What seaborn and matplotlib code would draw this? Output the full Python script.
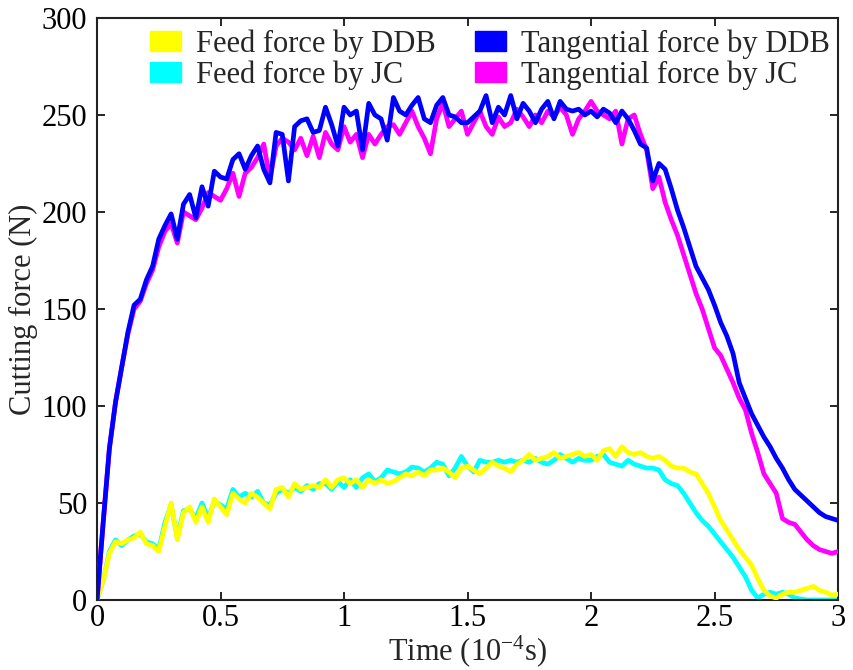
import numpy as np
import pandas as pd
import matplotlib
matplotlib.use("Agg")
import matplotlib.pyplot as plt
from matplotlib.patches import Patch
import seaborn as sns

# ---- data (time in 1e-4 s, step 0.025) ----
time = [round(i * 0.025, 3) for i in range(121)]

feed_ddb = [0, 10, 24, 30, 29, 31, 32, 35, 29, 28, 25, 38, 50, 31, 45, 48, 40, 48, 40, 52,
            48, 44, 55, 52, 50, 55, 53, 50, 47, 57, 58, 53, 60, 57, 58, 59, 58, 62, 58, 62,
            63, 60, 62, 58, 62, 60, 62, 60, 61, 63, 65, 64, 66, 64, 67, 67, 68, 66, 63, 68,
            69, 67, 65, 68, 71, 69, 68, 66, 70, 72, 75, 72, 73, 74, 76, 73, 74, 75, 76, 74,
            75, 72, 77, 78, 74, 79, 76, 75, 76, 74, 73, 74, 72, 69, 68, 68, 66, 65, 60, 55,
            48, 41, 36, 31, 26, 22, 18, 11, 5, 2, 1, 3, 4, 4, 5, 6, 7, 5, 4, 2.5, 3]

feed_jc = [0, 10, 25, 31, 28, 31, 33, 34, 30, 29, 26, 40, 49, 32, 46, 47, 42, 50, 42, 51,
           49, 47, 57, 53, 55, 53, 56, 50, 49, 55, 57, 55, 58, 56, 59, 57, 60, 60, 57, 61,
           58, 62, 58, 63, 65, 61, 63, 67, 66, 65, 66, 68.5, 68, 66, 68, 71, 70, 64, 68, 74,
           69, 66, 72, 71, 71, 72, 71, 72, 71, 72, 71, 73, 71, 70, 72, 75, 73, 71, 73, 72,
           72, 74, 75, 71, 70, 69, 72, 70, 69, 68, 68, 67, 62, 60, 59, 55, 50, 45, 41, 38,
           34, 30, 26, 22, 17, 12, 5, 1, 3, 4, 3, 4, 3, 1, 0.5, 0, 0, 0, 0, 0, 0]

tang_ddb = [0, 40, 78, 102, 120, 138, 152, 155, 165, 172, 186, 193, 199, 186, 204, 209, 197, 213, 203, 221,
            218, 217, 227, 230, 222, 229, 234, 222, 215, 241, 240, 216, 244, 247, 248, 241, 242, 254, 245, 234,
            254, 250, 252, 232, 256, 250, 248, 237, 259, 252, 250, 255, 259, 248, 246, 255, 259, 250, 249, 246,
            246, 249, 252, 260, 246, 254, 250, 260, 248, 256, 252, 246, 253, 257, 248, 257, 253, 252, 253, 250,
            252, 249, 253, 251, 246, 252, 248, 242, 235, 233, 216, 225, 222, 212, 201, 192, 182, 172, 166, 160,
            152, 143, 136, 127, 112, 104, 96, 90, 84, 79, 73, 68, 62, 57, 54, 51, 48, 45, 43, 42, 41]

tang_jc = [0, 40, 78, 102, 120, 137, 150, 154, 163, 170, 182, 190, 194, 184, 200, 198, 196, 202, 210, 208,
           206, 212, 220, 208, 220, 223, 228, 235, 217, 234, 238, 236, 232, 238, 229, 239, 228, 241, 235, 232,
           244, 236, 240, 228, 240, 235, 240, 244, 245, 240, 246, 252, 244, 238, 230, 248, 256, 244, 248, 252,
           240, 246, 252, 244, 240, 249, 244, 246, 253, 249, 244, 250, 246, 252, 249, 254, 250, 240, 248, 252,
           257, 252, 250, 248, 252, 235, 248, 250, 240, 232, 212, 218, 205, 196, 188, 178, 168, 158, 150, 140,
           130, 126, 119, 112, 104, 98, 86, 76, 65, 60, 55, 42, 40, 39, 35, 31, 28, 26, 25, 24, 25]

labels = ["Feed force by DDB", "Feed force by JC",
          "Tangential force by DDB", "Tangential force by JC"]
colors = ["#FFFF00", "#00FFFF", "#0000FF", "#FF00FF"]

df = pd.DataFrame({
    "time": time * 4,
    "force": feed_ddb + feed_jc + tang_ddb + tang_jc,
    "series": sum([[lab] * len(time) for lab in labels], []),
})

sns.set_style("ticks")
plt.rcParams["font.family"] = ["Liberation Serif", "DejaVu Serif"]
plt.rcParams["mathtext.fontset"] = "custom"
plt.rcParams["mathtext.rm"] = "Liberation Serif"
plt.rcParams["mathtext.it"] = "Liberation Serif:italic"

FS = 22
fig = plt.figure(figsize=(8.54, 6.70), dpi=100)
ax = fig.add_axes([0.1136, 0.1045, 0.8677, 0.8687])

draw_order = [1, 0, 3, 2]
for i in draw_order:
    sub = df[df["series"] == labels[i]]
    sns.lineplot(data=sub, x="time", y="force", color=colors[i], lw=3.4,
                 ax=ax, legend=False, zorder=2 + draw_order.index(i))

ax.set_xlim(0, 3)
ax.set_ylim(0, 300)
ax.set_xticks([0, 0.5, 1, 1.5, 2, 2.5, 3])
ax.set_xticklabels(["0", "0.5", "1", "1.5", "2", "2.5", "3"])
ax.set_yticks(range(0, 301, 50))
ax.tick_params(direction="in", length=6, width=1.2, top=True, right=True,
               labelsize=FS, colors="black")
ax.tick_params(axis="x", pad=3)
ax.tick_params(axis="y", pad=7)
for s in ax.spines.values():
    s.set_linewidth(1.5)
    s.set_color("#222222")

ax.set_xlabel("Time (10$^{\\mathrm{-4}}$s)", fontsize=FS, labelpad=0)
ax.set_ylabel("Cutting force (N)", fontsize=FS, labelpad=3)

handles = [Patch(facecolor=c, edgecolor=c) for c in colors]
ax.legend(handles, labels, ncol=2, frameon=False, loc="upper left",
          bbox_to_anchor=(0.055, 1.002), fontsize=FS, handlelength=1.0,
          handleheight=0.65, handletextpad=0.5, columnspacing=1.3,
          labelspacing=0.05, borderaxespad=0.0, borderpad=0.4)

fig.savefig("out.png", dpi=100)
